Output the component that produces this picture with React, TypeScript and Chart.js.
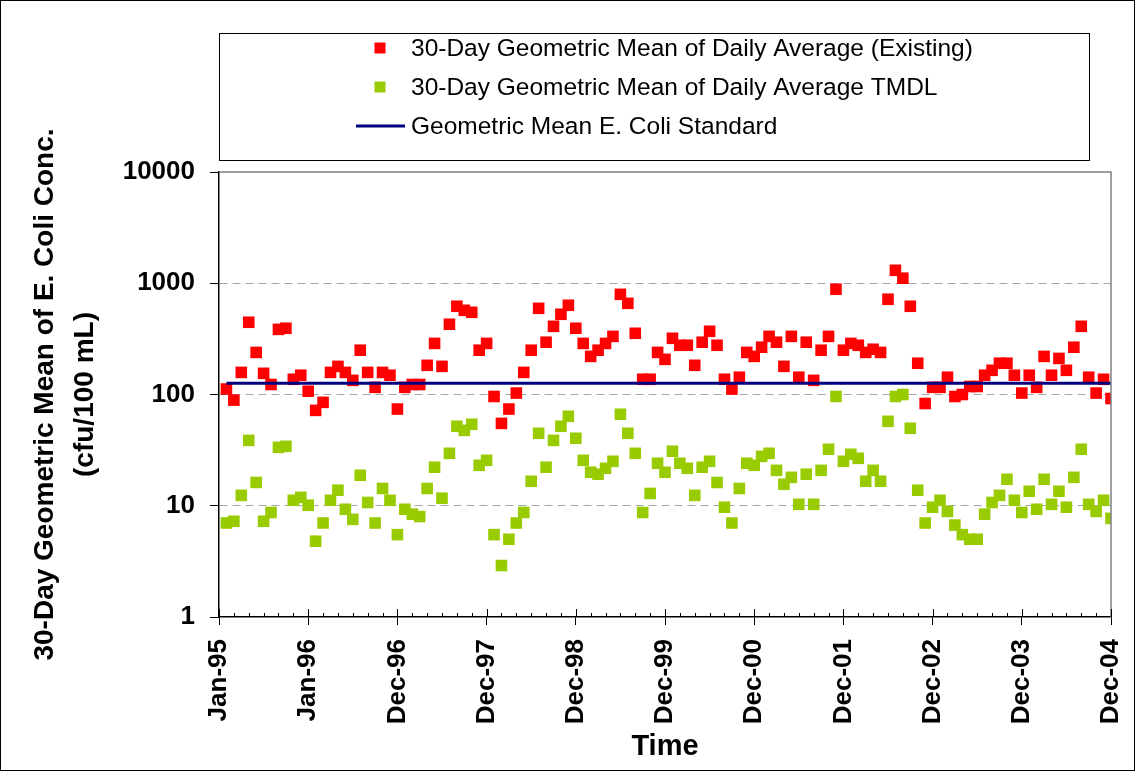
import React, { useEffect, useRef } from 'react';
import { Chart, registerables } from 'chart.js';

Chart.register(...registerables);

const tickLabels = ['Jan-95', 'Jan-96', 'Dec-96', 'Dec-97', 'Dec-98', 'Dec-99', 'Dec-00', 'Dec-01', 'Dec-02', 'Dec-03', 'Dec-04'];

const seriesLabels = [
  '30-Day Geometric Mean of Daily Average (Existing)',
  '30-Day Geometric Mean of Daily Average TMDL',
  'Geometric Mean E. Coli Standard',
];

const existingGeoMean = [
  112, 89, 158, 446, 239, 155, 123, 385, 394, 137,
  149, 107, 72, 85, 158, 179, 158, 134, 250, 158,
  116, 158, 149, 74, 116, 123, 123, 183, 288, 179,
  428, 621, 571, 548, 250, 288, 96, 55, 74, 103,
  158, 250, 595, 295, 410, 526, 634, 394, 288, 220,
  250, 288, 333, 795, 660, 355, 137, 137, 239, 207,
  320, 277, 277, 183, 295, 370, 277, 137, 112, 143,
  239, 220, 266, 333, 295, 179, 333, 143, 295, 134,
  250, 333, 883, 250, 288, 277, 239, 255, 239, 718,
  1307, 1110, 621, 191, 83, 116, 116, 143, 96, 100,
  118, 118, 149, 165, 191, 191, 149, 103, 149, 116,
  220, 149, 211, 165, 266, 410, 143, 103, 137, 92,
];

const tmdlGeoMean = [
  7.0, 7.25, 12.4, 38.7, 16.2, 7.25, 8.7, 33.5, 34.2, 11.2,
  11.9, 10.1, 4.8, 7.0, 11.2, 13.8, 9.3, 7.55, 18.8, 10.7,
  7.0, 14.3, 11.2, 5.5, 9.3, 8.4, 8.0, 14.3, 22.2, 11.7,
  29.6, 51.8, 47.6, 54, 23.1, 25.6, 5.5, 2.9, 5.0, 7.0,
  8.7, 16.6, 44.8, 22.2, 38.7, 51.8, 63.7, 40.4, 25.6, 20,
  19.2, 21.7, 25.1, 66.4, 44.8, 29.6, 8.7, 12.9, 24.1, 20,
  30.9, 24.1, 21.7, 12.4, 22.2, 25.1, 16.2, 9.7, 7.0, 14.3,
  24.1, 23.1, 27.8, 29.6, 20.8, 15.6, 18, 10.3, 19.2, 10.3,
  20.8, 32.2, 96, 25.1, 29, 26.7, 16.6, 20.8, 16.6, 57.4,
  96, 100, 49.7, 13.8, 7.0, 9.7, 11.2, 8.9, 6.7, 5.5,
  5.0, 5.0, 8.4, 10.7, 12.4, 17.3, 11.2, 8.7, 13.5, 9.3,
  17.3, 10.3, 13.5, 9.7, 18, 32.2, 10.3, 8.9, 11.2, 7.7,
];

const standardValue = 126;
const yTickValues = [1, 10, 100, 1000, 10000];

const RED = '#FF0000';
const GREEN = '#99CC00';
const NAVY = '#000080';
const FONT = '"Liberation Sans", Arial, Helvetica, sans-serif';

const decorPlugin = {
  id: 'decor',
  afterDraw(chart: any) {
    const { ctx, chartArea: ca, scales } = chart;
    const xs = scales.x;
    ctx.save();
    // plot area border (top & right)
    ctx.strokeStyle = '#808080';
    ctx.lineWidth = 1.5;
    ctx.beginPath();
    ctx.moveTo(ca.left, ca.top);
    ctx.lineTo(ca.right, ca.top);
    ctx.lineTo(ca.right, ca.bottom);
    ctx.stroke();
    // inner tick marks on x axis
    ctx.strokeStyle = '#000';
    ctx.lineWidth = 1;
    const last = tickLabels.length * 12 - 12;
    for (let v = 0; v <= last; v += 2) {
      const px = Math.round(xs.getPixelForValue(v)) + 0.5;
      const len = v % 12 === 0 ? 8 : 4;
      ctx.beginPath();
      ctx.moveTo(px, ca.bottom);
      ctx.lineTo(px, ca.bottom - len);
      ctx.stroke();
    }
    // legend box
    const bx = 218, by = 32, bw = 870, bh = 127;
    ctx.fillStyle = '#fff';
    ctx.fillRect(bx, by, bw, bh);
    ctx.strokeStyle = '#000';
    ctx.lineWidth = 1;
    ctx.strokeRect(bx + 0.5, by + 0.5, bw, bh);
    const rows = [47, 86, 125];
    const markX = 379;
    const textX = 410;
    ctx.font = `24.5px ${FONT}`;
    ctx.textBaseline = 'middle';
    ctx.textAlign = 'left';
    chart.data.datasets.forEach((ds: any, i: number) => {
      const y = rows[i];
      if (ds.showLine) {
        ctx.strokeStyle = ds.borderColor;
        ctx.lineWidth = 3;
        ctx.beginPath();
        ctx.moveTo(355, y);
        ctx.lineTo(404, y);
        ctx.stroke();
      } else {
        ctx.fillStyle = ds.backgroundColor;
        ctx.fillRect(markX - 5.5, y - 5.5, 11, 11);
      }
      ctx.fillStyle = '#000';
      ctx.fillText(ds.label, textX, y + 1);
    });
    ctx.restore();
  },
};

export default function App() {
  const canvasRef = useRef<HTMLCanvasElement | null>(null);

  useEffect(() => {
    document.body.style.margin = '0';
    const canvas = canvasRef.current;
    if (!canvas) return;
    const lastIndex = existingGeoMean.length;
    const chart = new Chart(canvas, {
      type: 'scatter',
      data: {
        datasets: [
          {
            label: seriesLabels[0],
            data: existingGeoMean.map((v, i) => ({ x: i + 1, y: v })),
            backgroundColor: RED,
            borderColor: RED,
            borderWidth: 0,
            pointStyle: 'rect',
            pointRadius: 8.2,
            order: 2,
          },
          {
            label: seriesLabels[1],
            data: tmdlGeoMean.map((v, i) => ({ x: i + 1, y: v })),
            backgroundColor: GREEN,
            borderColor: GREEN,
            borderWidth: 0,
            pointStyle: 'rect',
            pointRadius: 8.2,
            order: 1,
          },
          {
            label: seriesLabels[2],
            data: [
              { x: 1, y: standardValue },
              { x: lastIndex, y: standardValue },
            ],
            showLine: true,
            borderColor: NAVY,
            backgroundColor: NAVY,
            borderWidth: 3,
            pointRadius: 0,
            order: 0,
          } as any,
        ],
      },
      options: {
        animation: false,
        responsive: false,
        maintainAspectRatio: false,
        layout: { padding: { top: 171, right: 23, left: 0, bottom: 0 } },
        plugins: {
          legend: { display: false },
          tooltip: { enabled: false },
        },
        scales: {
          x: {
            type: 'linear',
            min: 0,
            max: (tickLabels.length - 1) * 12,
            afterBuildTicks: (s: any) => {
              const t: any[] = [];
              for (let v = 0; v <= (tickLabels.length - 1) * 12; v += 2) t.push({ value: v });
              s.ticks = t;
            },
            afterFit: (s: any) => {
              s.height = 153;
              s.paddingLeft = 0;
              s.paddingRight = 0;
            },
            ticks: {
              autoSkip: false,
              minRotation: 90,
              maxRotation: 90,
              padding: 14,
              color: '#000',
              font: { family: FONT, size: 26, weight: 'bold' },
              callback: (v: any) => (Number(v) % 12 === 0 ? tickLabels[Number(v) / 12] : ''),
            },
            grid: {
              drawOnChartArea: false,
              drawTicks: true,
              tickLength: 8,
              tickWidth: 1,
              tickColor: (c: any) => (c.tick && c.tick.value % 12 === 0 ? '#000' : 'rgba(0,0,0,0)'),
            },
            border: { color: '#000', width: 1.5 },
            title: {
              display: true,
              text: 'Time',
              color: '#000',
              font: { family: FONT, size: 29, weight: 'bold', lineHeight: 1.2 },
              padding: { top: 0, bottom: 6 },
            },
          },
          y: {
            type: 'logarithmic',
            min: 1,
            max: 10000,
            afterBuildTicks: (s: any) => {
              s.ticks = yTickValues.map((v) => ({ value: v }));
            },
            afterFit: (s: any) => {
              s.width = 218;
              s.paddingTop = 0;
              s.paddingBottom = 0;
            },
            ticks: {
              padding: 15,
              color: '#000',
              font: { family: FONT, size: 26, weight: 'bold' },
              callback: (v: any) => String(v),
            },
            grid: {
              drawTicks: true,
              tickLength: 9,
              tickWidth: 1,
              tickColor: '#000',
              lineWidth: 1,
              color: (c: any) =>
                c.tick && (c.tick.value === yTickValues[0] || c.tick.value === yTickValues[yTickValues.length - 1])
                  ? 'rgba(0,0,0,0)'
                  : '#a6a6a6',
            },
            border: { color: '#000', width: 1.5, dash: [8, 5] },
            title: {
              display: true,
              text: ['30-Day Geometric Mean of E. Coli Conc.', '(cfu/100 mL)'],
              color: '#000',
              font: { family: FONT, size: 28, weight: 'bold', lineHeight: 1.43 },
              padding: { top: 24, bottom: 0 },
            },
          },
        },
      },
      plugins: [decorPlugin],
    } as any);
    return () => chart.destroy();
  }, []);

  return (
    <div
      style={{
        position: 'relative',
        width: 1135,
        height: 771,
        boxSizing: 'border-box',
        border: '1px solid #000',
        background: '#fff',
      }}
    >
      <canvas ref={canvasRef} width={1133} height={769} style={{ display: 'block', width: 1133, height: 769 }} />
    </div>
  );
}
